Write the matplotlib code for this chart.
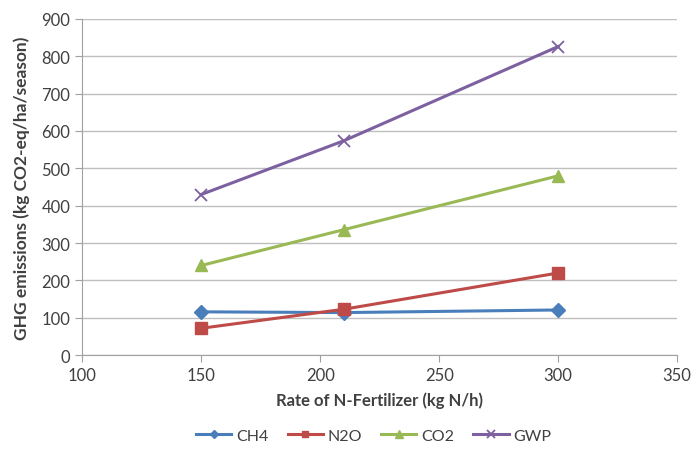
import numpy as np
import matplotlib.pyplot as plt

# N-fertilizer rate vs GHG emissions
rate = [150, 210, 300]
ch4 = [116, 114, 121]
n2o = [72, 123, 220]
co2 = [240, 336, 480]
gwp = [430, 574, 826]

plt.rcParams['font.family'] = ['Lato', 'DejaVu Sans']

fig = plt.figure(figsize=(6.91, 4.52), dpi=100)
ax = fig.add_axes([0.119, 0.212, 0.861, 0.744])

txt = '#404040'
ax.plot(rate, ch4, color='#4A7EBB', lw=2.2, marker='D', ms=7, label='CH4')
ax.plot(rate, n2o, color='#BE4B48', lw=2.2, marker='s', ms=8, label='N2O')
ax.plot(rate, co2, color='#98B954', lw=2.2, marker='^', ms=9, label='CO2')
ax.plot(rate, gwp, color='#7D60A0', lw=2.2, marker='x', ms=9, mew=1.3, label='GWP')

ax.set_xlim(100, 350)
ax.set_ylim(0, 900)
ax.set_xticks(np.arange(100, 351, 50))
ax.set_yticks(np.arange(0, 901, 100))
ax.grid(axis='y', color='#BFBFBF', lw=1)
ax.set_axisbelow(True)
for s in ['top', 'right']:
    ax.spines[s].set_visible(False)
for s in ['left', 'bottom']:
    ax.spines[s].set_color('#A0A0A0')
ax.tick_params(colors='#A0A0A0', labelcolor=txt, labelsize=12, length=5)

ax.set_xlabel('Rate of N-Fertilizer (kg N/h)', fontsize=12, fontweight='bold', color=txt, labelpad=6)
ax.set_ylabel('GHG emissions (kg CO2-eq/ha/season)', fontsize=12.5, fontweight='bold', color=txt, labelpad=8)

ax.legend(loc='upper center', bbox_to_anchor=(0.49, -0.175), ncol=4, frameon=False,
          fontsize=11.5, labelcolor=txt, handlelength=2.2, handletextpad=0.3,
          markerscale=0.6, columnspacing=1.2)

fig.savefig('out.png', dpi=100)
